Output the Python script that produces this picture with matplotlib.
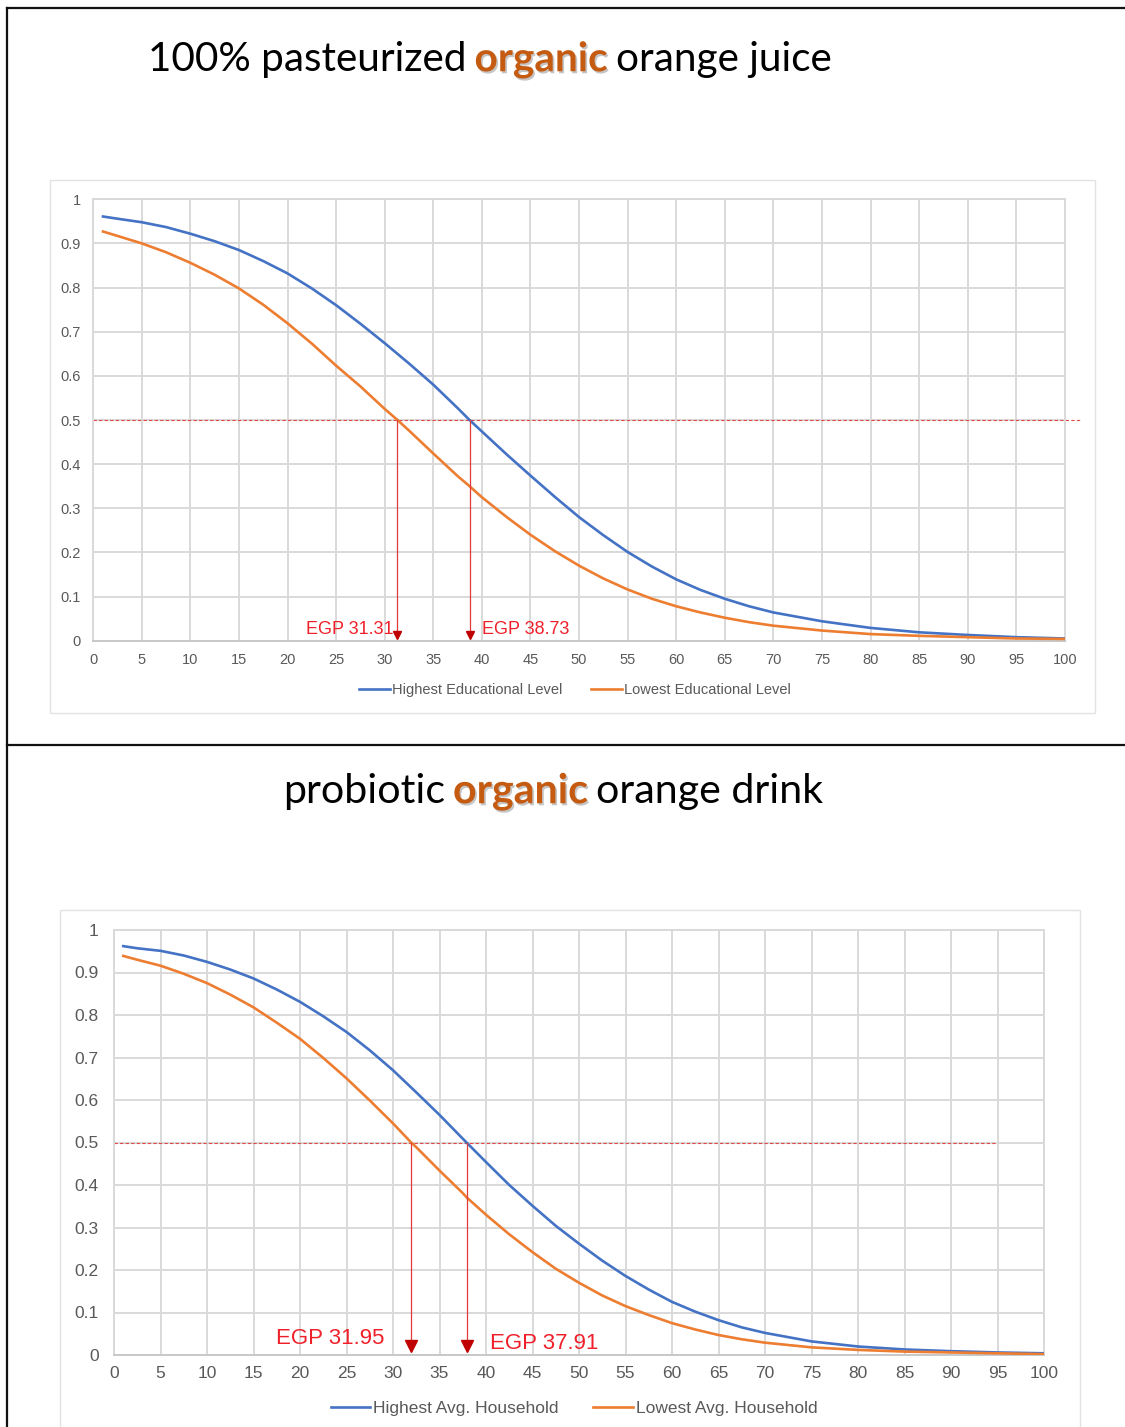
import matplotlib
matplotlib.use("Agg")
import matplotlib.pyplot as plt
import matplotlib.patheffects as pe
from matplotlib.lines import Line2D
from matplotlib.patches import Rectangle

plt.rcParams["font.family"] = ["Liberation Sans", "DejaVu Sans"]

BLUE = "#4472C4"
ORANGE = "#ED7D31"
RED = "#f0202a"
GRID = "#d9d9d9"
TICK = "#595959"

# --- chart 1: 100% pasteurized organic orange juice ---
juice_high_x = [1, 2.5, 5, 7.5, 10, 12.5, 15, 17.5, 20, 22.5, 25, 27.5, 30, 32.5, 35, 37.5, 38.73, 40,
                42.5, 45, 47.5, 50, 52.5, 55, 57.5, 60, 62.5, 65, 67.5, 70, 75, 80, 85, 90, 95, 100]
juice_high_y = [0.961, 0.956, 0.948, 0.937, 0.922, 0.905, 0.885, 0.860, 0.832, 0.798, 0.760, 0.718,
                0.674, 0.628, 0.580, 0.527, 0.500, 0.474, 0.423, 0.374, 0.326, 0.280, 0.239, 0.201,
                0.168, 0.139, 0.115, 0.095, 0.078, 0.064, 0.044, 0.029, 0.019, 0.013, 0.008, 0.005]
juice_low_x = [1, 2.5, 5, 7.5, 10, 12.5, 15, 17.5, 20, 22.5, 25, 27.5, 30, 31.31, 32.5, 35, 37.5, 38.73,
               40, 42.5, 45, 47.5, 50, 52.5, 55, 57.5, 60, 62.5, 65, 67.5, 70, 75, 80, 85, 90, 95, 100]
juice_low_y = [0.927, 0.917, 0.900, 0.880, 0.856, 0.829, 0.798, 0.761, 0.719, 0.673, 0.623, 0.576,
               0.525, 0.500, 0.476, 0.424, 0.373, 0.350, 0.325, 0.281, 0.240, 0.203, 0.170, 0.141,
               0.116, 0.095, 0.078, 0.064, 0.052, 0.042, 0.034, 0.023, 0.015, 0.011, 0.008, 0.005, 0.004]
juice_prices = [31.31, 38.73]
juice_labels = ["Highest Educational Level", "Lowest Educational Level"]

# --- chart 2: probiotic organic orange drink ---
drink_high_x = [1, 2.5, 5, 7.5, 10, 12.5, 15, 17.5, 20, 22.5, 25, 27.5, 30, 32.5, 35, 37.5, 37.91, 40,
                42.5, 45, 47.5, 50, 52.5, 55, 57.5, 60, 62.5, 65, 67.5, 70, 75, 80, 85, 90, 95, 100]
drink_high_y = [0.962, 0.957, 0.951, 0.940, 0.925, 0.907, 0.886, 0.860, 0.831, 0.797, 0.760, 0.717,
                0.670, 0.618, 0.565, 0.509, 0.500, 0.454, 0.400, 0.351, 0.304, 0.262, 0.222, 0.186,
                0.154, 0.125, 0.102, 0.082, 0.065, 0.052, 0.032, 0.020, 0.013, 0.009, 0.006, 0.004]
drink_low_x = [1, 2.5, 5, 7.5, 10, 12.5, 15, 17.5, 20, 22.5, 25, 27.5, 30, 31.95, 32.5, 35, 37.5, 37.91,
               40, 42.5, 45, 47.5, 50, 52.5, 55, 57.5, 60, 62.5, 65, 67.5, 70, 75, 80, 85, 90, 95, 100]
drink_low_y = [0.939, 0.930, 0.916, 0.897, 0.875, 0.848, 0.818, 0.782, 0.744, 0.699, 0.651, 0.599,
               0.545, 0.500, 0.489, 0.434, 0.381, 0.371, 0.330, 0.284, 0.242, 0.203, 0.170, 0.140,
               0.115, 0.094, 0.075, 0.060, 0.047, 0.037, 0.029, 0.018, 0.012, 0.008, 0.006, 0.004, 0.002]
drink_prices = [31.95, 37.91]
drink_labels = ["Highest Avg. Household", "Lowest Avg. Household"]

x_ticks = list(range(0, 101, 5))
y_ticks = [i / 10 for i in range(11)]
y_ticklabels = ["0"] + [f"{t:.1f}" for t in y_ticks[1:-1]] + ["1"]

W, H = 1125, 1427
fig = plt.figure(figsize=(W / 100, H / 100), dpi=100)


def px(x, y):
    """Pixel position (from top-left) to figure fraction."""
    return x / W, 1 - y / H


def draw_chart(rect, high, low, prices, fs, label_fs, label_pos, line_end, arrow_y, ms, pads):
    ax = fig.add_axes(rect)
    ax.plot(*high, color=BLUE, lw=1.9, solid_joinstyle="round", zorder=3)
    ax.plot(*low, color=ORANGE, lw=1.9, solid_joinstyle="round", zorder=3)
    ax.plot([0, line_end], [0.5, 0.5], color="#e04848", lw=0.8, ls=(0, (3, 2)), clip_on=False, zorder=2)
    for p, (lx, ly, ha) in zip(prices, label_pos):
        ax.plot([p, p], [0.5, arrow_y], color="#e03a3a", lw=0.9, zorder=4)
        ax.plot(p, arrow_y, marker="v", color="#c00000", ms=ms, zorder=5, clip_on=False)
        ax.text(lx, ly, f"EGP {p:.2f}", color=RED, fontsize=label_fs, ha=ha, va="center", zorder=6)
    ax.set_xlim(0, 100)
    ax.set_ylim(0, 1)
    ax.set_xticks(x_ticks)
    ax.set_yticks(y_ticks)
    ax.set_yticklabels(y_ticklabels)
    ax.grid(True, color=GRID, lw=1.4)
    ax.set_axisbelow(True)
    for s in ax.spines.values():
        s.set_color(GRID)
        s.set_linewidth(1.4)
    ax.spines["bottom"].set_color("#c8c8c8")
    ax.tick_params(length=0, labelsize=fs, colors=TICK)
    ax.tick_params(axis="y", pad=pads[0])
    ax.tick_params(axis="x", pad=pads[1])
    return ax


def draw_title(x_px, y_px, parts, size):
    renderer = fig.canvas.get_renderer()
    x, y = px(x_px, y_px)
    for text, color, weight in parts:
        t = fig.text(x, y, text, color=color, fontsize=size, fontweight=weight,
                     family=["Lato", "DejaVu Sans"], ha="left", va="center")
        if weight == "bold":
            t.set_path_effects([pe.SimplePatchShadow(offset=(1.2, -1.5), shadow_rgbFace="#808080", alpha=0.45),
                                pe.Normal()])
        bb = t.get_window_extent(renderer)
        x += (bb.width + 8) / W


# outer frame lines
for (x0, y0), (x1, y1) in [((7, 8), (1125, 8)), ((7, 8), (7, 1427)), ((7, 745), (1125, 745))]:
    fig.add_artist(Line2D([x0 / W, x1 / W], [1 - y0 / H, 1 - y1 / H], color="#111111", lw=1.6))

# chart boxes
for x0, y0, x1, y1 in [(50, 180, 1095, 713), (60, 910, 1080, 1440)]:
    fig.add_artist(Rectangle((x0 / W, 1 - y1 / H), (x1 - x0) / W, (y1 - y0) / H,
                             transform=fig.transFigure, fill=False, edgecolor="#e2e2e2", lw=1.0))

# titles
draw_title(148, 60, [("100% pasteurized", "black", "normal"), ("organic", "#C55A11", "bold"),
                     ("orange juice", "black", "normal")], 29.2)
draw_title(283, 792, [("probiotic", "black", "normal"), ("organic", "#C55A11", "bold"),
                      ("orange drink", "black", "normal")], 29.6)

# top chart
l, t = px(93.3, 199.3)
r, b = px(1064.8, 640.7)
draw_chart([l, b, r - l, t - b], (juice_high_x, juice_high_y), (juice_low_x, juice_low_y),
           juice_prices, 10.5, 13, [(30.9, 0.025, "right"), (40.0, 0.025, "left")], 101.7, 0.014, 6, (9, 9))
h1 = Line2D([], [], color=BLUE, lw=1.9)
h2 = Line2D([], [], color=ORANGE, lw=1.9)
fig.legend([h1, h2], juice_labels, loc="center", bbox_to_anchor=px(575, 690), ncol=2, frameon=False,
           fontsize=10.5, labelcolor=TICK, handlelength=2.1, handletextpad=0.15, columnspacing=2.0)

# bottom chart
l, t = px(114, 930)
r, b = px(1044, 1355)
draw_chart([l, b, r - l, t - b], (drink_high_x, drink_high_y), (drink_low_x, drink_low_y),
           drink_prices, 12.5, 16, [(29.1, 0.04, "right"), (40.4, 0.028, "left")], 94.7, 0.021, 8, (11, 8))
fig.legend([h1, h2], drink_labels, loc="center", bbox_to_anchor=px(574, 1408), ncol=2, frameon=False,
           fontsize=12.5, labelcolor=TICK, handlelength=2.3, handletextpad=0.15, columnspacing=2.0)

fig.savefig("out.png", dpi=100)
